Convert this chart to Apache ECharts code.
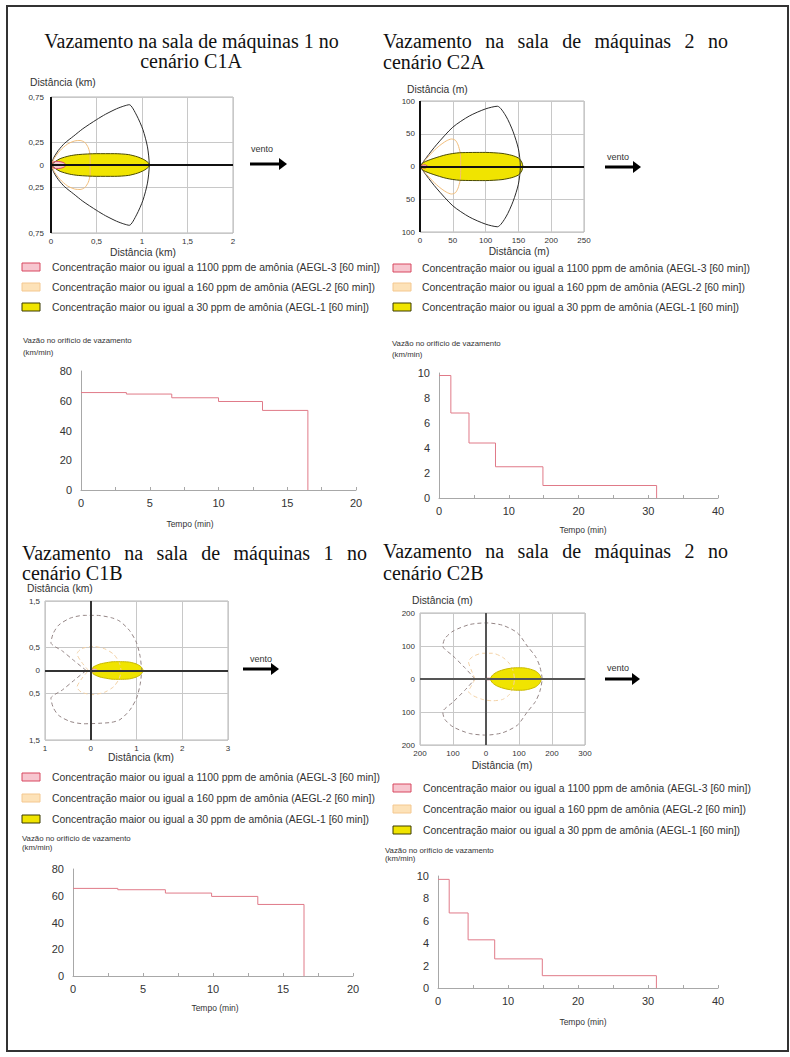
<!DOCTYPE html>
<html><head><meta charset="utf-8">
<script src="https://cdn.jsdelivr.net/npm/echarts@6/dist/echarts.min.js"></script>
<style>html,body{margin:0;padding:0;background:#fff}#c{width:790px;height:1057px}</style>
</head><body><div id="c"></div>
<script>
// ---------------- DATA ----------------
const titleLines = [
  ['Vazamento na sala de máquinas 1 no', 'cenário C1A'],
  ['Vazamento na sala de máquinas 2 no', 'cenário C2A'],
  ['Vazamento na sala de máquinas 1 no', 'cenário C1B'],
  ['Vazamento na sala de máquinas 2 no', 'cenário C2B']
];
const legendLabels = [
  'Concentração maior ou igual a 1100 ppm de amônia (AEGL-3 [60 min])',
  'Concentração maior ou igual a 160 ppm de amônia (AEGL-2 [60 min])',
  'Concentração maior ou igual a 30 ppm de amônia (AEGL-1 [60 min])'
];
const distNameKm = 'Distância (km)';
const distNameM = 'Distância (m)';
const rateName1 = 'Vazão no orifício de vazamento';
const rateName2 = '(km/min)';
const timeName = 'Tempo (min)';
const windLabel = 'vento';

// C1A plume (km)
const c1aBlack = [[0,0],[0.03,0.08],[0.08,0.16],[0.15,0.24],[0.25,0.32],[0.35,0.4],[0.5,0.5],[0.6,0.56],[0.72,0.62],[0.8,0.65],[0.86,0.665],[0.94,0.55],[1.01,0.39],[1.06,0.2],[1.08,0],[1.06,-0.2],[1.01,-0.39],[0.94,-0.55],[0.86,-0.665],[0.8,-0.65],[0.72,-0.62],[0.6,-0.56],[0.5,-0.5],[0.35,-0.4],[0.25,-0.32],[0.15,-0.24],[0.08,-0.16],[0.03,-0.08],[0,0]];
const c1aOrange = [[0,0],[0.04,0.08],[0.1,0.16],[0.18,0.23],[0.26,0.265],[0.32,0.27],[0.37,0.25],[0.41,0.19],[0.43,0.1],[0.43,0],[0.43,-0.1],[0.41,-0.19],[0.37,-0.25],[0.32,-0.27],[0.26,-0.265],[0.18,-0.23],[0.1,-0.16],[0.04,-0.08],[0,0]];
const c1aYellowTop = [[0,0],[0.05,0.04],[0.1,0.07],[0.2,0.1],[0.3,0.115],[0.5,0.125],[0.7,0.125],[0.85,0.115],[0.95,0.09],[1.02,0.06],[1.07,0.025],[1.085,0]];
const c1aYellowBottom = [[0,0],[0.05,-0.04],[0.1,-0.07],[0.2,-0.1],[0.3,-0.115],[0.5,-0.125],[0.7,-0.125],[0.85,-0.115],[0.95,-0.09],[1.02,-0.06],[1.07,-0.025],[1.085,0]];
const c1aRedTop = [[0,0],[0.02,0.03],[0.06,0.04],[0.11,0.035],[0.15,0.02],[0.16,0]];
const c1aRedBottom = [[0,0],[0.02,-0.03],[0.06,-0.04],[0.11,-0.035],[0.15,-0.02],[0.16,0]];

// C2A plume (m)
const c2aBlack = [[0,0],[10,14],[25,33],[50,60],[75,77],[100,88],[118,92],[131,77],[142,53],[150,27],[153,0],[150,-27],[142,-53],[131,-77],[118,-92],[100,-88],[75,-77],[50,-60],[25,-33],[10,-14],[0,0]];
const c2aOrange = [[0,0],[10,12],[20,23],[30,32],[40,39],[48,42],[54,40],[58,33],[61,22],[62,10],[62,0],[62,-10],[61,-22],[58,-33],[54,-40],[48,-42],[40,-39],[30,-32],[20,-23],[10,-12],[0,0]];
const c2aYellowTop = [[0,0],[5,6],[20,12],[40,18],[60,21],[100,21.5],[125,20],[140,17],[150,13],[155,7],[157,0]];
const c2aYellowBottom = [[0,0],[5,-6],[20,-12],[40,-18],[60,-21],[100,-21.5],[125,-20],[140,-17],[150,-13],[155,-7],[157,0]];
const c2aRedTop = [[0,0],[3,2],[8,2.5],[12,0]];
const c2aRedBottom = [[0,0],[3,-2],[8,-2.5],[12,0]];

// C1B plume (km)
const c1bBlack = [[-0.1,0],[-0.35,0.2],[-0.62,0.42],[-0.87,0.6],[-0.82,0.8],[-0.7,0.98],[-0.45,1.13],[-0.15,1.19],[0.13,1.19],[0.45,1.14],[0.64,1.06],[0.85,0.86],[1.0,0.6],[1.08,0.3],[1.11,0],[1.08,-0.3],[1.0,-0.6],[0.85,-0.86],[0.64,-1.06],[0.45,-1.12],[0.17,-1.14],[-0.15,-1.15],[-0.45,-1.1],[-0.7,-0.97],[-0.82,-0.8],[-0.87,-0.6],[-0.62,-0.42],[-0.35,-0.2],[-0.1,0]];
const c1bOrange = [[-0.05,0],[-0.2,0.18],[-0.3,0.36],[-0.2,0.47],[0.05,0.52],[0.3,0.47],[0.5,0.35],[0.62,0.18],[0.66,0],[0.62,-0.18],[0.5,-0.35],[0.3,-0.47],[0.05,-0.52],[-0.2,-0.47],[-0.3,-0.36],[-0.2,-0.18],[-0.05,0]];
const c1bYellowTop = [[0.02,0],[0.05,0.07],[0.1,0.1],[0.2,0.14],[0.35,0.17],[0.5,0.19],[0.7,0.19],[0.85,0.18],[1.0,0.14],[1.1,0.08],[1.15,0]];
const c1bYellowBottom = [[0.02,0],[0.05,-0.07],[0.1,-0.1],[0.2,-0.14],[0.35,-0.17],[0.5,-0.19],[0.7,-0.19],[0.85,-0.18],[1.0,-0.14],[1.1,-0.08],[1.15,0]];
const c1bRedTop = [[0,0],[0.03,0.025],[0.08,0.03],[0.13,0.02],[0.15,0]];
const c1bRedBottom = [[0,0],[0.03,-0.025],[0.08,-0.03],[0.13,-0.02],[0.15,0]];

// C2B plume (m)
const c2bBlack = [[-33,0],[-65,35],[-100,70],[-131,100],[-125,122],[-100,145],[-50,165],[0,170],[50,163],[95,140],[125,100],[150,68],[163,38],[170,0],[163,-38],[150,-68],[125,-100],[95,-140],[50,-163],[0,-170],[-50,-165],[-100,-145],[-125,-122],[-131,-100],[-100,-70],[-65,-35],[-33,0]];
const c2bOrange = [[-33,0],[-45,28],[-53,52],[-40,68],[-10,78],[20,78],[50,66],[70,48],[82,25],[86,0],[82,-25],[70,-48],[50,-62],[20,-66],[-10,-62],[-40,-50],[-53,-38],[-45,-22],[-33,0]];
const c2bYellowTop = [[12,0],[20,12],[35,22],[60,30],[90,34],[110,34],[130,31],[150,24],[162,14],[168,0]];
const c2bYellowBottom = [[12,0],[20,-12],[35,-22],[60,-30],[90,-34],[110,-34],[130,-31],[150,-24],[162,-14],[168,0]];
const c2bRedTop = [[0,0],[4,3],[10,3],[15,0]];
const c2bRedBottom = [[0,0],[4,-3],[10,-3],[15,0]];

// release rate step series: time (min) where each level starts, level (km/min)
const rateC1A_t = [0, 3.3, 6.6, 10, 13.2, 16.5];
const rateC1A_v = [65.5, 64.5, 62, 59.5, 53.5, 0];
const rateC2A_t = [0, 1.7, 4.3, 8.1, 14.9, 31.2];
const rateC2A_v = [9.8, 6.8, 4.4, 2.5, 1.0, 0];
const rateC1B_t = [0, 3.2, 6.6, 9.9, 13.2, 16.5];
const rateC1B_v = [65.5, 64.5, 62, 59.5, 53.5, 0];
const rateC2B_t = [0, 1.6, 4.3, 8.1, 14.9, 31.2];
const rateC2B_v = [9.7, 6.7, 4.3, 2.6, 1.1, 0];

// axis ranges / tick values
const c1aX = [0, 2, 0.5];
const c1aYTicks = [-0.75, -0.25, 0, 0.25, 0.75];
const c2aX = [0, 250, 50];
const c2aY = [-100, 100, 50];
const c1bX = [-1, 3, 1];
const c1bYTicks = [-1.5, -0.5, 0, 0.5, 1.5];
const c2bX = [-200, 300, 100];
const c2bY = [-200, 200, 100];
const rateBigY = [0, 80, 20];
const rateBigX = [0, 20, 5];
const rateSmallY = [0, 10, 2];
const rateSmallX = [0, 40, 10];

// ---------------- LAYOUT / STYLE ----------------
const SANS = 'Liberation Sans';
const SERIF = 'Liberation Serif';
const grids = [
  {left: 51, top: 97, width: 182, height: 136},   // 0 C1A plume
  {left: 420, top: 101, width: 164, height: 131}, // 1 C2A plume
  {left: 45, top: 601, width: 183, height: 139},  // 2 C1B plume
  {left: 420, top: 613, width: 165, height: 132}, // 3 C2B plume
  {left: 81, top: 371, width: 275, height: 119},  // 4 C1A rate
  {left: 439, top: 373, width: 279, height: 125}, // 5 C2A rate
  {left: 73, top: 869, width: 280, height: 107},  // 6 C1B rate
  {left: 438, top: 876, width: 280, height: 112}  // 7 C2B rate
].map(g => Object.assign({show: false, outerBoundsMode: 'none', containLabel: false}, g));
grids.forEach((g, i) => { if (i < 4) { g.show = true; g.borderColor = '#b4b4b4'; g.borderWidth = 1; g.backgroundColor = 'transparent'; } });

const fmtAbs = v => String(Math.abs(+v.toFixed(4))).replace('.', ',');

function plumeX(gi, r) {
  return {type: 'value', gridIndex: gi, min: r[0], max: r[1], interval: r[2],
    axisLine: {show: false}, axisTick: {show: false},
    splitLine: {show: true, lineStyle: {color: '#c8c8c8', width: 1}},
    axisLabel: {fontSize: 8, color: '#333', fontFamily: SANS, margin: 4, formatter: fmtAbs, showMinLabel: true, showMaxLabel: true, hideOverlap: false}};
}
function plumeY(gi, r, custom, margin) {
  const ax = {type: 'value', gridIndex: gi, min: r[0], max: r[1],
    axisLine: {show: false}, axisTick: {show: false},
    splitLine: {show: true, lineStyle: {color: '#c8c8c8', width: 1}},
    axisLabel: {fontSize: 8, color: '#333', fontFamily: SANS, margin: margin, formatter: fmtAbs, showMinLabel: true, showMaxLabel: true, hideOverlap: false}};
  if (custom) {
    ax.axisLabel.customValues = custom;
    ax.axisTick = {show: false, customValues: custom};
  } else ax.interval = r[2];
  return ax;
}
function rateX(gi, r) {
  return {type: 'value', gridIndex: gi, min: r[0], max: r[1], interval: r[2],
    axisLine: {show: true, onZero: false, lineStyle: {color: '#a8a8a8', width: 1}},
    axisTick: {show: true, inside: true, length: 3, lineStyle: {color: '#a8a8a8'}},
    minorTick: {show: true, splitNumber: 2, length: 3, lineStyle: {color: '#a8a8a8'}},
    splitLine: {show: false},
    axisLabel: {fontSize: 11, color: '#333', fontFamily: SANS, margin: 7, showMinLabel: true, showMaxLabel: true, hideOverlap: false}};
}
function rateY(gi, r) {
  return {type: 'value', gridIndex: gi, min: r[0], max: r[1], interval: r[2],
    axisLine: {show: true, onZero: false, lineStyle: {color: '#a8a8a8', width: 1}},
    axisTick: {show: false}, splitLine: {show: false},
    axisLabel: {fontSize: 11, color: '#333', fontFamily: SANS, margin: 9, showMinLabel: true, showMaxLabel: true, hideOverlap: false}};
}

const xAxes = [plumeX(0, c1aX), plumeX(1, c2aX), plumeX(2, c1bX), plumeX(3, c2bX),
  rateX(4, rateBigX), rateX(5, rateSmallX), rateX(6, rateBigX), rateX(7, rateSmallX)];
const yAxes = [plumeY(0, [-0.75, 0.75], c1aYTicks, 7), plumeY(1, c2aY, null, 5), plumeY(2, [-1.5, 1.5], c1bYTicks, 5), plumeY(3, c2bY, null, 5),
  rateY(4, rateBigY), rateY(5, rateSmallY), rateY(6, rateBigY), rateY(7, rateSmallY)];

const series = [];
function outline(name, gi, data, color, width, dashed) {
  series.push({name, type: 'line', xAxisIndex: gi, yAxisIndex: gi, data, symbol: 'none', smooth: 0.25, silent: true, animation: false,
    lineStyle: {color, width, type: dashed ? [4, 3] : 'solid'}});
}
function filled(name, gi, data, fill, stroke) {
  series.push({name, type: 'line', xAxisIndex: gi, yAxisIndex: gi, data, symbol: 'none', smooth: 0.25, silent: true, animation: false,
    lineStyle: {color: stroke, width: 1}, areaStyle: {color: fill, opacity: 1}});
}
function zeroLines(gi, color, width, withX) {
  const d = [{yAxis: 0}];
  if (withX) d.push({xAxis: 0});
  series.push({type: 'line', xAxisIndex: gi, yAxisIndex: gi, data: [], silent: true, z: 5,
    markLine: {symbol: 'none', silent: true, animation: false, label: {show: false}, lineStyle: {color, width, type: 'solid'}, data: d}});
}
const N3 = legendLabels[0], N2 = legendLabels[1], N1 = legendLabels[2];
const YEL = '#f0e400', YELS = '#4a4a00', PINK = '#f7c6cf', RED = '#d84860', ORA = '#f2bd78';
// C1A
outline('Linhas de confiança', 0, c1aBlack, '#2b2b2b', 1);
outline(N2, 0, c1aOrange, ORA, 1);
filled(N1, 0, c1aYellowTop, YEL, YELS);
filled(N1, 0, c1aYellowBottom, YEL, YELS);
filled(N3, 0, c1aRedTop, PINK, RED);
filled(N3, 0, c1aRedBottom, PINK, RED);
zeroLines(0, '#111', 2, true);
// C2A
outline('Linhas de confiança', 1, c2aBlack, '#2b2b2b', 1);
outline(N2, 1, c2aOrange, ORA, 1);
filled(N1, 1, c2aYellowTop, YEL, YELS);
filled(N1, 1, c2aYellowBottom, YEL, YELS);
filled(N3, 1, c2aRedTop, PINK, RED);
filled(N3, 1, c2aRedBottom, PINK, RED);
zeroLines(1, '#111', 2, true);
// C1B
outline('Linhas de confiança', 2, c1bBlack, '#958686', 1, true);
outline(N2, 2, c1bOrange, '#f3d2a6', 1, true);
filled(N1, 2, c1bYellowTop, YEL, '#c8b800');
filled(N1, 2, c1bYellowBottom, YEL, '#c8b800');
filled(N3, 2, c1bRedTop, PINK, '#e8a0a8');
filled(N3, 2, c1bRedBottom, PINK, '#e8a0a8');
zeroLines(2, '#333', 2, true);
// C2B
outline('Linhas de confiança', 3, c2bBlack, '#958686', 1, true);
outline(N2, 3, c2bOrange, '#f3d2a6', 1, true);
filled(N1, 3, c2bYellowTop, YEL, '#c8b800');
filled(N1, 3, c2bYellowBottom, YEL, '#c8b800');
filled(N3, 3, c2bRedTop, PINK, '#e8a0a8');
filled(N3, 3, c2bRedBottom, PINK, '#e8a0a8');
zeroLines(3, '#555', 2, true);
// rates
[[4, rateC1A_t, rateC1A_v], [5, rateC2A_t, rateC2A_v], [6, rateC1B_t, rateC1B_v], [7, rateC2B_t, rateC2B_v]].forEach(([gi, t, v]) => {
  series.push({name: 'Vazão', type: 'line', step: 'end', xAxisIndex: gi, yAxisIndex: gi, symbol: 'none', silent: true,
    data: t.map((x, i) => [x, v[i]]), lineStyle: {color: '#e07a88', width: 1}});
});

// ---------------- GRAPHICS (text, legends, arrows) ----------------
const ctx = document.createElement('canvas').getContext('2d');
function tw(text, size, family) { ctx.font = size + 'px ' + family; return ctx.measureText(text).width; }
const g = [];
function txt(text, x, y, size, opts) {
  opts = opts || {};
  g.push({type: 'text', x, y, silent: true, style: {text, fill: opts.color || '#333',
    fontSize: size, fontFamily: opts.family || SANS, textAlign: opts.align || 'left', textVerticalAlign: 'middle'}});
}
const TF = 20;
function justified(text, x0, x1, y) {
  const words = text.split(' ');
  const ws = words.map(w => tw(w, TF, SERIF));
  const total = ws.reduce((a, b) => a + b, 0);
  const gap = (x1 - x0 - total) / (words.length - 1);
  let x = x0;
  words.forEach((w, i) => { txt(w, x, y, TF, {family: SERIF, color: '#111'}); x += ws[i] + gap; });
}
// titles
txt(titleLines[0][0], 191.5, 41, TF, {family: SERIF, color: '#111', align: 'center'});
txt(titleLines[0][1], 191, 61, TF, {family: SERIF, color: '#111', align: 'center'});
justified(titleLines[1][0], 383, 728, 41);
txt(titleLines[1][1], 383, 61.5, TF, {family: SERIF, color: '#111'});
justified(titleLines[2][0], 22, 367, 553);
txt(titleLines[2][1], 22, 573, TF, {family: SERIF, color: '#111'});
justified(titleLines[3][0], 383, 728, 551);
txt(titleLines[3][1], 383, 573, TF, {family: SERIF, color: '#111'});

// axis names of plume charts
const AN = 10.3;
txt(distNameKm, 30, 82, AN); txt(distNameKm, 143, 252, AN, {align: 'center'});
txt(distNameM, 407, 89, AN); txt(distNameM, 519, 251.5, AN, {align: 'center'});
txt(distNameKm, 27, 588, AN); txt(distNameKm, 141, 757, AN, {align: 'center'});
txt(distNameM, 412, 600, AN); txt(distNameM, 502, 765, AN, {align: 'center'});

// rate chart names
[[23, 340, 352, 190, 524], [392, 343, 354, 583, 530], [22, 838, 847, 215, 1008], [385, 850, 858, 583, 1022]].forEach(([x, y1, y2, tx, ty]) => {
  txt(rateName1, x, y1, 7.8); txt(rateName2, x, y2, 7.8); txt(timeName, tx, ty, 8.5, {align: 'center'});
});

// wind arrows
[[250, 280, 287, 164, 251, 149], [605, 634, 641, 167, 607, 157], [243, 272, 279, 669, 250, 659], [605, 633, 640, 679, 607, 668]].forEach(([x1, x2, tip, y, tx, ty]) => {
  g.push({type: 'line', silent: true, shape: {x1, y1: y, x2, y2: y}, style: {stroke: '#000', lineWidth: 3}});
  g.push({type: 'polygon', silent: true, shape: {points: [[x2 - 1, y - 6], [tip, y], [x2 - 1, y + 6]]}, style: {fill: '#000'}});
  txt(windLabel, tx, ty, 9);
});

// legends
const legStyles = [{fill: PINK, stroke: RED}, {fill: '#fde2b8', stroke: '#f4c890'}, {fill: YEL, stroke: '#3a3a00'}];
[[22, 52, [267, 287, 307]], [393, 422, [268, 287, 307]], [22, 52, [777, 798, 819]], [393, 423, [788, 809, 830]]].forEach(([bx, tx, rows]) => {
  rows.forEach((y, i) => {
    g.push({type: 'rect', silent: true, shape: {x: bx, y: y - 4, width: 18, height: 8}, style: {fill: legStyles[i].fill, stroke: legStyles[i].stroke, lineWidth: 1}});
    txt(legendLabels[i], tx, y, 10.4);
  });
});

// page border
g.push({type: 'rect', silent: true, shape: {x: 7, y: 6, width: 781, height: 1045}, style: {fill: 'none', stroke: '#333', lineWidth: 2}});

const chart = echarts.init(document.getElementById('c'), null, {renderer: 'svg', width: 790, height: 1057});
chart.setOption({
  animation: false,
  backgroundColor: '#fff',
  textStyle: {fontFamily: SANS},
  tooltip: {show: false},
  grid: grids,
  xAxis: xAxes,
  yAxis: yAxes,
  series,
  graphic: {elements: g}
});
</script></body></html>
